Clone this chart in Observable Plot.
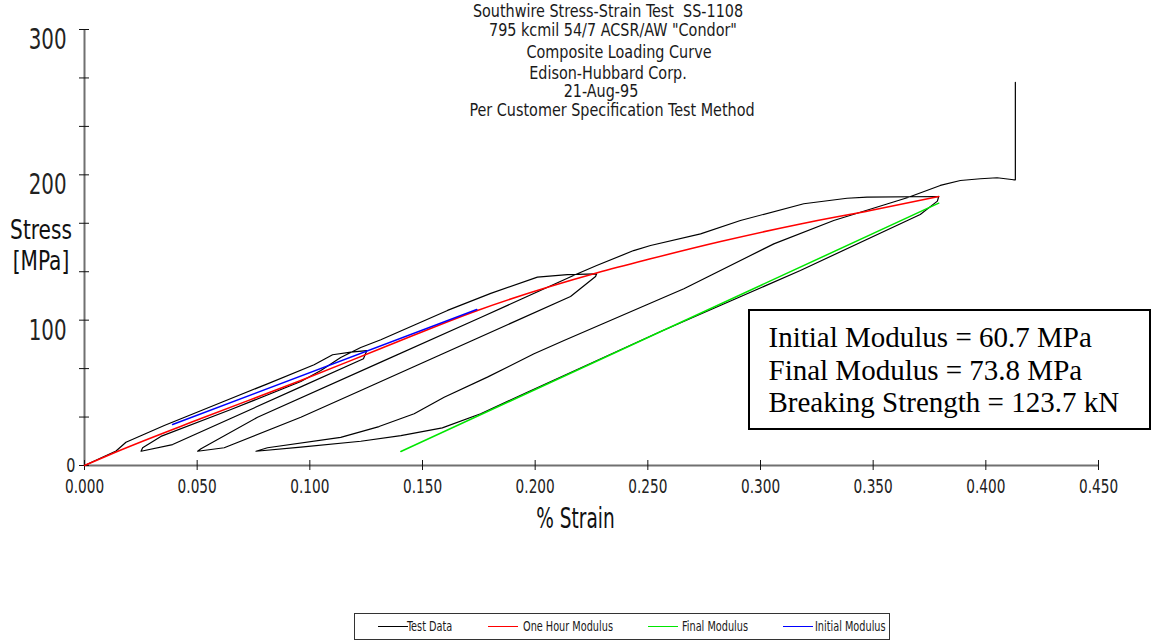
<!DOCTYPE html>
<html>
<head>
<meta charset="utf-8">
<script src="https://cdn.jsdelivr.net/npm/d3@7"></script>
<script src="https://cdn.jsdelivr.net/npm/@observablehq/plot@0.6"></script>
<style>
  html, body { margin: 0; padding: 0; background: #fff; }
  #page { position: relative; width: 1151px; height: 640px; overflow: hidden; background: #fff;
          font-family: "DejaVu Sans Condensed", "DejaVu Sans", sans-serif; color: #1a1a1a; }
  #chart { position: absolute; left: 0; top: 0; }
  .tl { position: absolute; white-space: pre; font-size: 17px; line-height: 13px;
        transform: translateX(-50%) scaleX(0.94); transform-origin: 50% 50%; }
  #stats { position: absolute; left: 748px; top: 309px; width: 403px; height: 121px; box-sizing: border-box;
           border: 2.5px solid #000; background: #fff; padding: 10px 0 0 18.5px;
           font-family: "Liberation Serif", "Times New Roman", serif; font-size: 29px; line-height: 32.5px;
           color: #000; white-space: pre; }
  #legendBox { position: absolute; left: 354px; top: 613px; width: 536px; height: 27px; box-sizing: border-box;
               border: 1.5px solid #333; }
  .swatch { position: absolute; width: 30px; height: 0; border-top: 1.5px solid; }
  .ltext { position: absolute; white-space: pre; font-size: 13.5px; line-height: 16px;
           transform: scaleX(0.8); transform-origin: 0 50%; }
</style>
</head>
<body>
<div id="page">
  <div id="chart"></div>
  <div id="titles"></div>
  <div id="stats"></div>
  <div id="legendBox"></div>
  <div id="legend"></div>
</div>
<script>
// ---- text content ----
const titleLines = [
  "Southwire Stress-Strain Test  SS-1108",
  "795 kcmil 54/7 ACSR/AW \"Condor\"",
  "Composite Loading Curve",
  "Edison-Hubbard Corp.",
  "21-Aug-95",
  "Per Customer Specification Test Method"
];
const statLines = [
  "Initial Modulus = 60.7 MPa",
  "Final Modulus = 73.8 MPa",
  "Breaking Strength = 123.7 kN"
];
const legendLabels = ["Test Data", "One Hour Modulus", "Final Modulus", "Initial Modulus"];
const legendColors = ["#000000", "#ff0000", "#00e600", "#0000ff"];

// ---- axes ----
const xTicks = [0, 0.05, 0.10, 0.15, 0.20, 0.25, 0.30, 0.35, 0.40, 0.45];
const yLabelled = [100, 200, 300];
const yZero = [0];
const yTicks = [0, 33.33, 66.67, 100, 133.33, 166.67, 200, 233.33, 266.67, 300];

// ---- measured loading / unloading cycles (% strain, MPa) ----
const testStrain = [
  0, 0.0140, 0.0184, 0.0354, 0.0620, 0.0812, 0.1019, 0.1101, 0.1182, 0.1253,
  0.1238, 0.0960, 0.0391, 0.0251,
  0.0258, 0.0339, 0.0650, 0.0960, 0.1049, 0.1137, 0.1226, 0.1315, 0.1611, 0.1803, 0.2010, 0.2143, 0.2273,
  0.2268, 0.2157, 0.1226, 0.0960, 0.0620, 0.0502,
  0.0517, 0.0768, 0.1315, 0.1758, 0.2180, 0.2273, 0.2437, 0.2512, 0.2734, 0.2911, 0.3192, 0.3384, 0.3473, 0.3791,
  0.3785, 0.3709, 0.3177, 0.2557, 0.1965, 0.1758, 0.1588, 0.1404, 0.1226, 0.0960, 0.0761,
  0.0812, 0.1137, 0.1307, 0.1463, 0.1596, 0.1788, 0.1995, 0.2128, 0.2557, 0.2660, 0.3059, 0.3325, 0.3651,
  0.3798, 0.3887, 0.3976, 0.4050, 0.4123, 0.4131, 0.4131
];
const testStress = [
  0, 10.0, 16.0, 27.5, 44.2, 56.2, 69.3, 76.2, 78.0, 79.1,
  73.4, 54.1, 14.4, 9.8,
  12.2, 20.0, 38.5, 57.8, 65.4, 74.3, 81.2, 86.5, 106.7, 118.4, 129.6, 131.4, 131.9,
  130.1, 116.3, 51.6, 33.2, 12.2, 9.8,
  11.5, 33.2, 71.1, 101.8, 131.4, 137.6, 147.9, 151.4, 159.4, 168.6, 180.1, 183.9, 184.6, 185.1,
  181.9, 172.7, 134.2, 92.2, 50.4, 35.6, 25.9, 20.6, 16.7, 12.6, 9.8,
  12.2, 19.3, 26.8, 35.6, 47.0, 60.8, 76.9, 86.0, 114.7, 121.6, 152.5, 168.6, 184.2,
  192.7, 196.1, 197.3, 198.0, 196.6, 196.6, 263.7
];

// one hour modulus curve
const hourStrain = [0, 0.0140, 0.0517, 0.0960, 0.1315, 0.1744, 0.2276, 0.2512, 0.2823, 0.3177, 0.3488, 0.3791];
const hourStress = [0, 9.3, 32.3, 58.5, 80.5, 106.7, 132.6, 142.2, 154.1, 166.2, 175.5, 185.1];

// final modulus line
const finalStrain = [0.1404, 0.3791];
const finalStress = [9.6, 180.5];

// initial modulus line
const initStrain = [0.0391, 0.1741];
const initStress = [28.2, 107.3];

// ---- build ----
const FONT = '"DejaVu Sans Condensed", "DejaVu Sans", sans-serif';
const zip = (xs, ys) => xs.map((x, i) => ({strain: x, stress: ys[i]}));

// horizontal squeeze applied to each text class, for a tall narrow lettering
const squeeze = {"lbl-y": 0.76, "lbl-y0": 0.8, "lbl-x": 0.8, "ttl-x": 0.71, "ttl-y": 0.86};

const chart = Plot.plot({
  width: 1151,
  height: 560,
  marginLeft: 84,
  marginRight: 53,
  marginTop: 29,
  marginBottom: 95,
  x: {domain: [0, 0.45], axis: null},
  y: {domain: [0, 300], axis: null},
  style: {fontFamily: FONT, background: "#fff", color: "#1a1a1a", overflow: "visible"},
  marks: [
    // axis lines
    Plot.ruleY([0], {x1: 0, x2: 0.45, stroke: "#707070", strokeWidth: 2}),
    Plot.ruleX([0], {y1: 0, y2: 300, stroke: "#707070", strokeWidth: 2}),
    // tick marks crossing the axes
    Plot.axisX(xTicks, {tickSize: 10, dy: -5, fill: "none", label: null, stroke: "#111"}),
    Plot.axisY(yTicks, {tickSize: 10, dx: 5, fill: "none", label: null, stroke: "#111"}),
    // tick labels
    Plot.text(xTicks, {x: d => d, text: d => d3.format(".3f")(d), frameAnchor: "bottom", dy: 27,
      fontSize: 19, fill: "#222", className: "lbl-x"}),
    Plot.text(yLabelled, {y: d => d, text: d => String(d), frameAnchor: "left", textAnchor: "end",
      lineAnchor: "top", dx: -18, dy: -1, fontSize: 29, fill: "#222", className: "lbl-y"}),
    Plot.text(yZero, {y: d => d, text: d => String(d), frameAnchor: "left", textAnchor: "end",
      dx: -9, fontSize: 20, fill: "#222", className: "lbl-y0"}),
    // axis titles
    Plot.text(["% Strain"], {text: d => d, frameAnchor: "bottom", dx: -16, dy: 62, fontSize: 29,
      fill: "#111", className: "ttl-x"}),
    Plot.text(["Stress\n[MPa]"], {text: d => d, frameAnchor: "left", textAnchor: "middle", dx: -43.5, dy: -3,
      lineHeight: 1.2, fontSize: 26, fill: "#111", className: "ttl-y"}),
    // data
    Plot.line(zip(testStrain, testStress), {x: "strain", y: "stress", stroke: legendColors[0], strokeWidth: 1.2}),
    Plot.line(zip(finalStrain, finalStress), {x: "strain", y: "stress", stroke: legendColors[2], strokeWidth: 1.5}),
    Plot.line(zip(hourStrain, hourStress), {x: "strain", y: "stress", stroke: legendColors[1], strokeWidth: 1.5, curve: "monotone-x"}),
    Plot.line(zip(initStrain, initStress), {x: "strain", y: "stress", stroke: legendColors[3], strokeWidth: 1.5})
  ]
});
document.getElementById("chart").appendChild(chart);

// condense lettering horizontally (keeps glyph height, narrows width)
Object.entries(squeeze).forEach(([cls, k]) => {
  chart.querySelectorAll("g." + cls + " text").forEach(el => {
    const spans = el.querySelectorAll("tspan");
    const targets = spans.length ? Array.from(spans) : [el];
    targets.forEach(t => {
      const w = t.getComputedTextLength();
      if (w > 0) {
        t.setAttribute("textLength", (w * k).toFixed(2));
        t.setAttribute("lengthAdjust", "spacingAndGlyphs");
      }
    });
  });
});

// title block
const titleBaselines = [17, 36, 58, 79, 97.5, 116];
const titleCenters = [608, 613, 619, 608, 601, 612];
const titles = document.getElementById("titles");
titleLines.forEach((t, i) => {
  const d = document.createElement("div");
  d.className = "tl";
  d.textContent = t;
  d.style.left = titleCenters[i] + "px";
  d.style.top = (titleBaselines[i] - 12.3) + "px";
  titles.appendChild(d);
});

// statistics box
document.getElementById("stats").textContent = statLines.join("\n");

// legend
const swatchLeft = [377.5, 488, 647.6, 782.5];
const textLeft = [407, 523, 682, 815];
const legend = document.getElementById("legend");
legendLabels.forEach((label, i) => {
  const sw = document.createElement("div");
  sw.className = "swatch";
  sw.style.borderTopColor = legendColors[i];
  sw.style.left = swatchLeft[i] + "px";
  sw.style.top = "626px";
  const tx = document.createElement("div");
  tx.className = "ltext";
  tx.textContent = label;
  tx.style.left = textLeft[i] + "px";
  tx.style.top = "618px";
  legend.appendChild(sw);
  legend.appendChild(tx);
});
</script>
</body>
</html>
